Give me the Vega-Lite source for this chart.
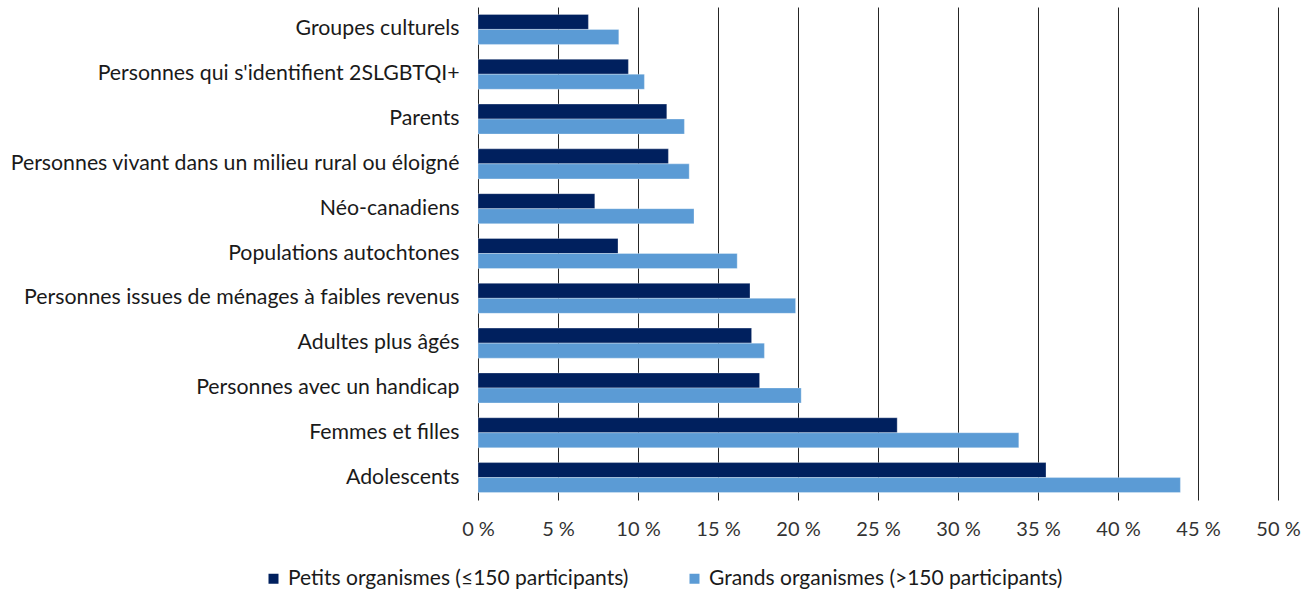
{
  "$schema": "https://vega.github.io/schema/vega-lite/v6.json",
  "autosize": "none",
  "width": 800,
  "height": 493,
  "padding": {"left": 478, "top": 7, "right": 37, "bottom": 92},
  "background": "white",
  "data": {
    "values": [
      {"cat": "Groupes culturels", "serie": "Petits organismes (≤150 participants)", "v": 6.9},
      {"cat": "Groupes culturels", "serie": "Grands organismes (>150 participants)", "v": 8.8},
      {"cat": "Personnes qui s'identifient  2SLGBTQI+", "serie": "Petits organismes (≤150 participants)", "v": 9.4},
      {"cat": "Personnes qui s'identifient  2SLGBTQI+", "serie": "Grands organismes (>150 participants)", "v": 10.4},
      {"cat": "Parents", "serie": "Petits organismes (≤150 participants)", "v": 11.8},
      {"cat": "Parents", "serie": "Grands organismes (>150 participants)", "v": 12.9},
      {"cat": "Personnes vivant dans un milieu rural ou éloigné", "serie": "Petits organismes (≤150 participants)", "v": 11.9},
      {"cat": "Personnes vivant dans un milieu rural ou éloigné", "serie": "Grands organismes (>150 participants)", "v": 13.2},
      {"cat": "Néo-canadiens", "serie": "Petits organismes (≤150 participants)", "v": 7.3},
      {"cat": "Néo-canadiens", "serie": "Grands organismes (>150 participants)", "v": 13.5},
      {"cat": "Populations autochtones", "serie": "Petits organismes (≤150 participants)", "v": 8.75},
      {"cat": "Populations autochtones", "serie": "Grands organismes (>150 participants)", "v": 16.2},
      {"cat": "Personnes issues de ménages à faibles revenus", "serie": "Petits organismes (≤150 participants)", "v": 17.0},
      {"cat": "Personnes issues de ménages à faibles revenus", "serie": "Grands organismes (>150 participants)", "v": 19.85},
      {"cat": "Adultes plus âgés", "serie": "Petits organismes (≤150 participants)", "v": 17.1},
      {"cat": "Adultes plus âgés", "serie": "Grands organismes (>150 participants)", "v": 17.9},
      {"cat": "Personnes avec un handicap", "serie": "Petits organismes (≤150 participants)", "v": 17.6},
      {"cat": "Personnes avec un handicap", "serie": "Grands organismes (>150 participants)", "v": 20.2},
      {"cat": "Femmes et filles", "serie": "Petits organismes (≤150 participants)", "v": 26.2},
      {"cat": "Femmes et filles", "serie": "Grands organismes (>150 participants)", "v": 33.8},
      {"cat": "Adolescents", "serie": "Petits organismes (≤150 participants)", "v": 35.5},
      {"cat": "Adolescents", "serie": "Grands organismes (>150 participants)", "v": 43.9}
    ]
  },
  "mark": {"type": "bar", "stroke": "white", "strokeWidth": 0.5, "strokeOpacity": 0.6},
  "encoding": {
    "y": {
      "field": "cat",
      "type": "nominal",
      "sort": null,
      "title": null,
      "scale": {"paddingInner": 0.33, "paddingOuter": 0.165},
      "axis": {
        "ticks": false,
        "domain": false,
        "labelPadding": 19,
        "labelFont": "Lato",
        "labelFontSize": 21.3,
        "labelColor": "#1a1a1a",
        "labelLimit": 600
      }
    },
    "yOffset": {
      "field": "serie",
      "type": "nominal",
      "sort": ["Petits organismes (≤150 participants)", "Grands organismes (>150 participants)"],
      "scale": {"paddingInner": 0, "paddingOuter": 0}
    },
    "x": {
      "field": "v",
      "type": "quantitative",
      "title": null,
      "scale": {"domain": [0, 50], "nice": false},
      "axis": {
        "values": [0, 5, 10, 15, 20, 25, 30, 35, 40, 45, 50],
        "labelExpr": "datum.value + ' %'",
        "labelFlush": false,
        "labelOverlap": false,
        "labelBound": false,
        "grid": true,
        "gridColor": "#262626",
        "gridWidth": 1,
        "domain": false,
        "ticks": false,
        "labelPadding": 19,
        "labelFont": "Lato",
        "labelFontSize": 20,
        "labelColor": "#333333"
      }
    },
    "color": {
      "field": "serie",
      "type": "nominal",
      "sort": ["Petits organismes (≤150 participants)", "Grands organismes (>150 participants)"],
      "scale": {"range": ["#00205E", "#5B9BD5"]},
      "legend": {
        "title": null,
        "orient": "none",
        "legendX": -215,
        "legendY": 561,
        "direction": "horizontal",
        "symbolType": "square",
        "symbolSize": 100,
        "symbolStrokeWidth": 0,
        "labelFont": "Lato",
        "labelFontSize": 21,
        "labelColor": "#1a1a1a",
        "columnPadding": 55,
        "labelOffset": 4,
        "labelLimit": 500
      }
    }
  },
  "config": {"view": {"stroke": null}}
}
